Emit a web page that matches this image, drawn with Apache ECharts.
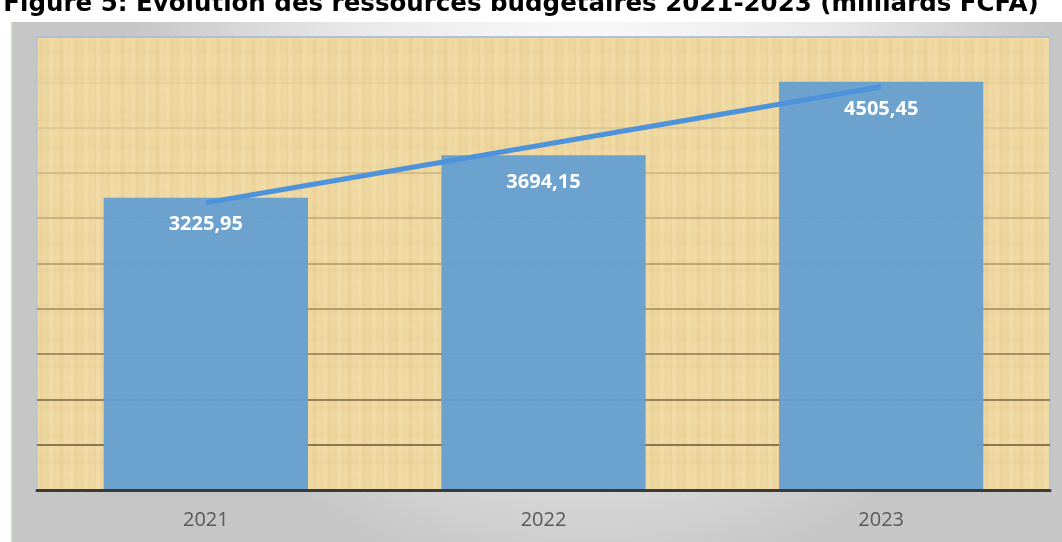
<!DOCTYPE html>
<html>
<head>
<meta charset="utf-8">
<script src="https://cdn.jsdelivr.net/npm/echarts@6/dist/echarts.min.js"></script>
<style>
html,body{margin:0;padding:0;background:#ffffff;}
#chart{width:1062px;height:542px;}
</style>
</head>
<body>
<div id="chart"></div>
<script>
// ---- data ----
var titleText = 'Figure 5: Évolution des ressources budgétaires 2021-2023 (milliards FCFA)';
var categories = ['2021', '2022', '2023'];
var barValues = [3225.95, 3694.15, 4505.45];
var trendValues = [3170, 3810, 4450];
var labelTexts = ['3225,95', '3694,15', '4505,45'];

// ---- texture tile (deterministic) ----
function makeTile() {
  var c = document.createElement('canvas');
  c.width = 96; c.height = 96;
  var g = c.getContext('2d');
  g.fillStyle = '#efd8a0';
  g.fillRect(0, 0, 96, 96);
  for (var x = 0; x < 96; x++) {
    var v = Math.sin(x * 0.9) * 0.5 + Math.sin(x * 0.37 + 1.3) * 0.5;
    g.fillStyle = v > 0 ? 'rgba(255,245,215,' + (0.16 * v) + ')' : 'rgba(190,150,80,' + (-0.10 * v) + ')';
    g.fillRect(x, 0, 1, 96);
  }
  for (var y = 0; y < 96; y++) {
    var w = Math.sin(y * 0.7 + 0.4) * 0.5 + Math.sin(y * 0.23) * 0.5;
    g.fillStyle = w > 0 ? 'rgba(255,248,225,' + (0.06 * w) + ')' : 'rgba(185,145,75,' + (-0.05 * w) + ')';
    g.fillRect(0, y, 96, 1);
  }
  return c;
}
var tile = makeTile();

var gridColors = ['#5a4a30', '#6a5638', '#7a6642', '#8c764e', '#9e875c', '#ae976a', '#bea678', '#cbb486', '#d6c092', '#e0cb9e', '#a9bdd6'];

var chart = echarts.init(document.getElementById('chart'), null, {renderer: 'canvas'});
chart.setOption({
  animation: false,
  backgroundColor: '#ffffff',
  graphic: [
    {
      type: 'rect', z: -20, silent: true,
      shape: {x: 12, y: 22, width: 1050, height: 520},
      style: {
        fill: new echarts.graphic.RadialGradient(0.55, 0.2, 0.9, [
          {offset: 0, color: '#ffffff'},
          {offset: 0.55, color: '#e8e8e8'},
          {offset: 1, color: '#c6c6c6'}
        ])
      }
    },
    {
      type: 'rect', z: -19, silent: true,
      shape: {x: 11, y: 22, width: 1.5, height: 520},
      style: {fill: '#c9e2b8'}
    },
    {
      type: 'rect', z: -18, silent: true,
      shape: {x: 37, y: 37, width: 1013, height: 453},
      style: {fill: {image: tile, repeat: 'repeat'}}
    },
    {
      type: 'text', z: 10, silent: true,
      style: {
        text: titleText,
        x: 521, y: 17,
        textAlign: 'center', textVerticalAlign: 'bottom',
        font: 'bold 24.5px "DejaVu Sans"',
        fill: '#000000'
      }
    }
  ],
  grid: {
    left: 37, right: 12, top: 37, bottom: 52,
    show: true, backgroundColor: 'transparent',
    borderColor: '#a9bdd6', borderWidth: 1
  },
  xAxis: {
    type: 'category',
    data: categories,
    axisLine: {show: true, lineStyle: {color: '#3a3a3a', width: 3}},
    axisTick: {show: false},
    axisLabel: {
      color: '#595959', fontSize: 20, fontFamily: '"Open Sans"', margin: 20
    },
    z: 5
  },
  yAxis: {
    type: 'value',
    min: 0, max: 5000, interval: 500,
    axisLabel: {show: false},
    axisLine: {show: false},
    axisTick: {show: false},
    splitLine: {show: true, lineStyle: {color: gridColors, width: 1.5}}
  },
  series: [
    {
      type: 'bar',
      data: barValues,
      barWidth: '60.5%',
      itemStyle: {color: 'rgba(102,159,207,0.96)'},
      label: {
        show: true, position: 'insideTop', distance: 17,
        color: '#ffffff', fontSize: 20, fontWeight: 'bold', fontFamily: '"Open Sans"',
        formatter: function (p) { return labelTexts[p.dataIndex]; }
      },
      z: 2
    },
    {
      type: 'line',
      data: trendValues,
      symbol: 'none',
      lineStyle: {color: '#4d92da', width: 5, cap: 'butt'},
      z: 4
    }
  ]
});
</script>
</body>
</html>
